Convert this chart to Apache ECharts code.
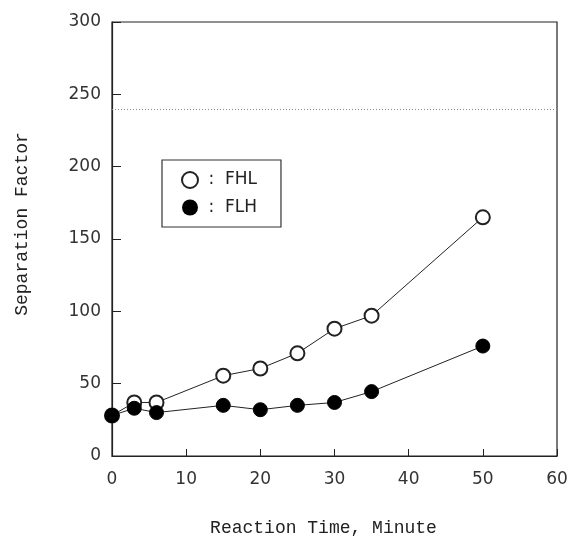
<!DOCTYPE html>
<html><head><meta charset="utf-8">
<script src="https://cdn.jsdelivr.net/npm/echarts@6/dist/echarts.min.js"></script>
<style>html,body{margin:0;padding:0;background:#fff}#c{width:571px;height:542px}</style>
</head><body><div id="c"></div>
<script>
const times = [0, 3, 6, 15, 20, 25, 30, 35, 50];
const fhl = [28, 37, 37, 55.5, 60.5, 71, 88, 97, 165];
const flh = [28, 33, 30, 35, 32, 35, 37, 44.5, 76];
const refLineValue = 240;
const xTicks = [0, 10, 20, 30, 40, 50, 60];
const yTicks = [0, 50, 100, 150, 200, 250, 300];

const font = 'DejaVu Sans';
const titleFont = 'Liberation Mono';
const chart = echarts.init(document.getElementById('c'), null, {renderer: 'canvas'});
const pair = arr => times.map((t, i) => [t, arr[i]]);
chart.setOption({
  animation: false,
  grid: {left: 112, top: 22, right: 14, bottom: 84, show: true, borderColor: '#222', borderWidth: 1.2, backgroundColor: 'transparent'},
  xAxis: {
    type: 'value', min: xTicks[0], max: xTicks[xTicks.length - 1], interval: 10,
    axisLine: {show: true, lineStyle: {color: '#222', width: 1.2}},
    axisTick: {show: true, inside: true, length: 7, lineStyle: {color: '#222'}},
    splitLine: {show: false},
    axisLabel: {color: '#333', fontFamily: font, fontSize: 17, margin: 15},
    name: 'Reaction Time, Minute', nameLocation: 'middle', nameGap: 63,
    nameTextStyle: {color: '#222', fontFamily: titleFont, fontSize: 18, padding: [0, 22, 0, 0]}
  },
  yAxis: {
    type: 'value', min: yTicks[0], max: yTicks[yTicks.length - 1], interval: 50,
    axisLine: {show: true, lineStyle: {color: '#222', width: 1.2}},
    axisTick: {show: true, inside: true, length: 9, lineStyle: {color: '#222'}},
    splitLine: {show: false},
    axisLabel: {color: '#333', fontFamily: font, fontSize: 17, margin: 11},
    name: 'Separation Factor', nameLocation: 'middle', nameGap: 81,
    nameTextStyle: {color: '#222', fontFamily: titleFont, fontSize: 18, padding: [0, 0, 0, 30]}
  },
  legend: {
    orient: 'vertical', left: 162, top: 160,
    backgroundColor: '#fff',
    borderColor: '#333', borderWidth: 1.2, borderRadius: 0,
    padding: [11, 24, 11, 19], itemGap: 10, itemWidth: 16, itemHeight: 16,
    textStyle: {color: '#222', fontFamily: font, fontSize: 17},
    formatter: n => ' :  ' + n,
    data: [{name: 'FHL', icon: 'emptyCircle'}, {name: 'FLH', icon: 'circle'}]
  },
  series: [
    {
      name: 'FHL', type: 'line', data: pair(fhl), symbol: 'emptyCircle', symbolSize: 14,
      lineStyle: {color: '#222', width: 1}, itemStyle: {color: '#222', borderWidth: 1.2},
      z: 3,
      markLine: {
        silent: true, symbol: 'none', label: {show: false},
        lineStyle: {color: '#888', type: [1, 2], width: 1},
        data: [{yAxis: refLineValue}]
      }
    },
    {
      name: 'FLH', type: 'line', data: pair(flh), symbol: 'circle', symbolSize: 14,
      lineStyle: {color: '#222', width: 1}, itemStyle: {color: '#000', borderColor: '#000'},
      z: 4
    }
  ]
});
</script></body></html>
